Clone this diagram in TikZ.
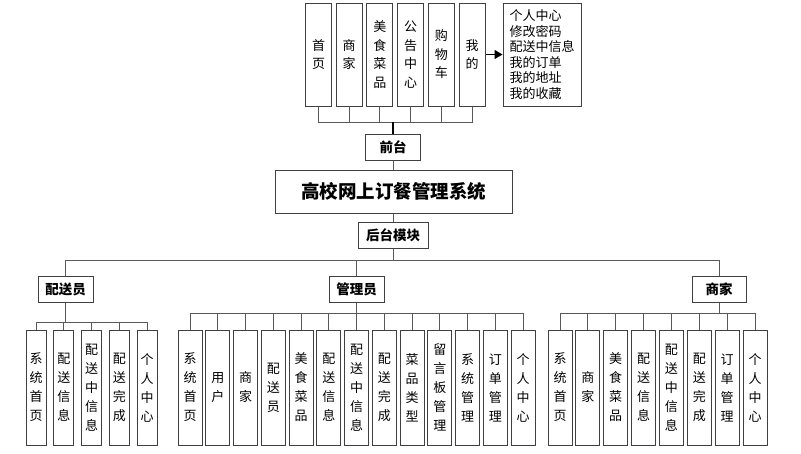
\documentclass[tikz,border=0pt]{standalone}
\usepackage{fontspec}
\setmainfont{Noto Sans CJK SC}
\usetikzlibrary{arrows.meta}
\tikzset{
  box/.style={draw=black!75, fill=white, line width=1pt, inner sep=0pt, align=center},
  colbox/.style={box, minimum height=115pt, font=\fontsize{13}{19}\selectfont},
  topbox/.style={box, minimum width=26pt, minimum height=103pt, font=\fontsize{13}{18.5}\selectfont},
  headbox/.style={box, minimum width=55pt, minimum height=26pt, font=\fontsize{13.5}{16}\selectfont\bfseries},
  link/.style={draw=black!65, line width=1pt},
}
\begin{document}
\begin{tikzpicture}[x=1pt, y=-1pt]
            \useasboundingbox (0,0) rectangle (801,453);
            \foreach \txt [count=\i] in {{首\\页}, {商\\家}, {美\\食\\菜\\品}, {公\\告\\中\\心}, {购\\物\\车}, {我\\的}}
              \node[topbox] (f\i) at ({318.5+30.7*(\i-1)}, 54.5) {\txt};
            \node[box, minimum width=78pt, minimum height=103pt, align=left, font=\fontsize{13}{15.5}\selectfont] (mine) at (542,54.5)
              {个人中心\\修改密码\\配送中信息\\我的订单\\我的地址\\我的收藏};
            \draw[-{Triangle[length=8pt,width=9pt]}, line width=1.6pt] (f6.east) -- (mine.west);
            \node[headbox] (qiantai) at (393,147) {前台};
            \coordinate (fbar) at (393,122);
            \foreach \i in {1,...,6}
              \draw[link] (f\i.south) |- (fbar);
            \draw[line width=1.6pt] (fbar) -- (qiantai.north);
            \node[box, minimum width=237pt, minimum height=43pt, font=\fontsize{18.5}{22}\selectfont\bfseries] (sys) at (393.5,191.5) {高校网上订餐管理系统};
            \draw[link] (qiantai.south) -- (sys.north -| qiantai.south);
            \node[headbox, minimum width=70pt] (houtai) at (393,235) {后台模块};
            \draw[link] (sys.south -| houtai.north) -- (houtai.north);
            \node[headbox] (psy) at (65.5,289) {配送员};
            \node[headbox] (gly) at (356.5,289) {管理员};
            \node[headbox, minimum width=54pt] (sj) at (719,289) {商家};
            \coordinate (hbar) at (393,260);
            \draw[link] (houtai.south) -- (hbar);
            \draw[link] (psy.north) |- (hbar);
            \draw[link] (gly.north) |- (hbar);
            \draw[link] (sj.north) |- (hbar);
            % 配送员
            \coordinate (pbar) at (65.5,322);
            \foreach \txt [count=\i] in {{系\\统\\首\\页}, {配\\送\\信\\息}, {配\\送\\中\\信\\息}, {配\\送\\完\\成}, {个\\人\\中\\心}}
              \node[colbox, minimum width=20pt] (p\i) at ({36+27.75*(\i-1)}, 387.5) {\txt};
            \foreach \i in {1,...,5}
              \draw[link] (p\i.north) |- (pbar);
            \draw[link] (psy.south) -- (pbar);
            % 管理员
            \coordinate (gbar) at (356.5,313);
            \foreach \txt [count=\i] in {{系\\统\\首\\页}, {用\\户}, {商\\家}, {配\\送\\员}, {美\\食\\菜\\品}, {配\\送\\信\\息}, {配\\送\\中\\信\\息}, {配\\送\\完\\成}, {菜\\品\\类\\型}, {留\\言\\板\\管\\理}, {系\\统\\管\\理}, {订\\单\\管\\理}, {个\\人\\中\\心}}
              \node[colbox, minimum width=24pt] (g\i) at ({190+27.75*(\i-1)}, 387.5) {\txt};
            \foreach \i in {1,...,13}
              \draw[link] (g\i.north) |- (gbar);
            \draw[link] (gly.south) -- (gbar);
            % 商家
            \coordinate (sbar) at (719,313);
            \foreach \txt [count=\i] in {{系\\统\\首\\页}, {商\\家}, {美\\食\\菜\\品}, {配\\送\\信\\息}, {配\\送\\中\\信\\息}, {配\\送\\完\\成}, {订\\单\\管\\理}, {个\\人\\中\\心}}
              \node[colbox, minimum width=24pt] (s\i) at ({560+27.86*(\i-1)}, 387.5) {\txt};
            \foreach \i in {1,...,8}
              \draw[link] (s\i.north) |- (sbar);
            \draw[link] (sj.south) -- (sbar);
\end{tikzpicture}
\end{document}
